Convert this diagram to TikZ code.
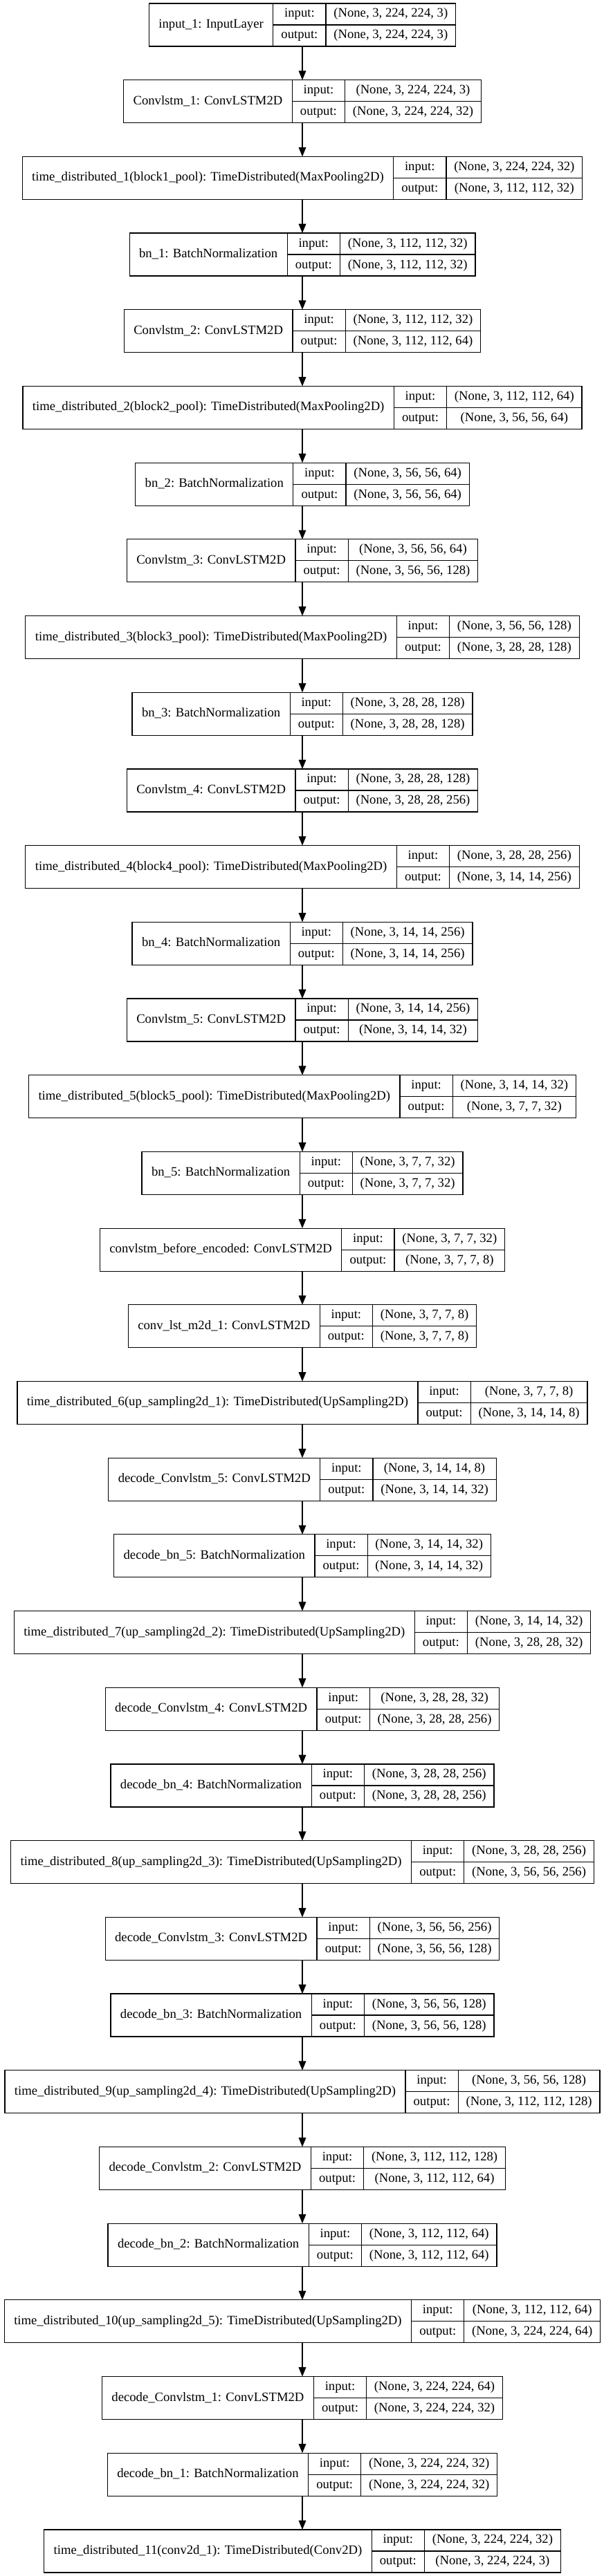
\documentclass[tikz,border=0pt]{standalone}
\usepackage{fontspec}
\setmainfont{Liberation Serif}
\usetikzlibrary{arrows.meta}
\newdimen\LA \newdimen\LB \newdimen\LC \newdimen\LT \newdimen\LW
\newdimen\XL \newdimen\XA \newdimen\XB \newdimen\YT \newdimen\YM
\newdimen\padn \padn=10.5pt
\newdimen\padl \padl=8.75pt
\newdimen\pads \pads=8.5pt
\font\measfont="Liberation Serif" at 14pt
\newcommand\lfont{\fontsize{14pt}{16pt}\selectfont}
\newcommand\mw[2]{\setbox0=\hbox{\measfont #2}#1=\wd0 }
\tikzset{
  field/.style={draw=black, line width=0.9pt, inner sep=0pt, font=\lfont,
     text height=0.89em, text depth=0.22em, align=center},
  outer/.style={draw=none, inner sep=0pt, outer sep=0pt},
  arr/.style={draw=black, line width=0.9pt, -{Triangle[length=10pt,width=8pt]}}
}
\newcommand\layer[5]{%
  \mw\LA{#3}\advance\LA by 2\padn
  \mw\LB{output:}\advance\LB by 2\padl
  \mw\LC{#4}\mw\LT{#5}%
  \ifdim\LT>\LC \LC=\LT\fi \advance\LC by 2\pads
  \LW=\dimexpr\LA+\LB+\LC\relax
  \XL=\dimexpr 327.75pt-\LW/2\relax
  \XA=\dimexpr\XL+\LA\relax
  \XB=\dimexpr\XA+\LB\relax
  \YT=\dimexpr -3.75pt-83.02pt*#2\relax
  \YM=\dimexpr\YT-23.25pt\relax
  \edef\wa{\the\LA}\edef\wb{\the\LB}\edef\wc{\the\LC}\edef\ww{\the\LW}%
  \edef\ym{\the\YM}%
  \edef\yi{\the\dimexpr\YT-11.625pt\relax}%
  \edef\yo{\the\dimexpr\YT-34.875pt\relax}%
  \edef\xn{\the\dimexpr\XL+\LA/2\relax}%
  \edef\xo{\the\dimexpr\XA+\LB/2\relax}%
  \edef\xs{\the\dimexpr\XB+\LC/2\relax}%
  \node[outer, minimum width=\ww, minimum height=46.5pt] (#1) at (327.75pt,\ym) {};
  \node[field, minimum width=\wa, minimum height=46.5pt] (#1-name) at (\xn,\ym) {#3};
  \node[field, minimum width=\wb, minimum height=23.25pt] (#1-il) at (\xo,\yi) {input:};
  \node[field, minimum width=\wb, minimum height=23.25pt] (#1-ol) at (\xo,\yo) {output:};
  \node[field, minimum width=\wc, minimum height=23.25pt] (#1-in) at (\xs,\yi) {#4};
  \node[field, minimum width=\wc, minimum height=23.25pt] (#1-out) at (\xs,\yo) {#5};
}
\begin{document}
\begin{tikzpicture}
\useasboundingbox[fill=white] (0pt,0pt) rectangle (654pt,-2793.75pt);
\layer{L1}{0}{input\_1: InputLayer}{(None, 3, 224, 224, 3)}{(None, 3, 224, 224, 3)}
\layer{L2}{1}{Convlstm\_1: ConvLSTM2D}{(None, 3, 224, 224, 3)}{(None, 3, 224, 224, 32)}
\layer{L3}{2}{time\_distributed\_1(block1\_pool): TimeDistributed(MaxPooling2D)}{(None, 3, 224, 224, 32)}{(None, 3, 112, 112, 32)}
\layer{L4}{3}{bn\_1: BatchNormalization}{(None, 3, 112, 112, 32)}{(None, 3, 112, 112, 32)}
\layer{L5}{4}{Convlstm\_2: ConvLSTM2D}{(None, 3, 112, 112, 32)}{(None, 3, 112, 112, 64)}
\layer{L6}{5}{time\_distributed\_2(block2\_pool): TimeDistributed(MaxPooling2D)}{(None, 3, 112, 112, 64)}{(None, 3, 56, 56, 64)}
\layer{L7}{6}{bn\_2: BatchNormalization}{(None, 3, 56, 56, 64)}{(None, 3, 56, 56, 64)}
\layer{L8}{7}{Convlstm\_3: ConvLSTM2D}{(None, 3, 56, 56, 64)}{(None, 3, 56, 56, 128)}
\layer{L9}{8}{time\_distributed\_3(block3\_pool): TimeDistributed(MaxPooling2D)}{(None, 3, 56, 56, 128)}{(None, 3, 28, 28, 128)}
\layer{L10}{9}{bn\_3: BatchNormalization}{(None, 3, 28, 28, 128)}{(None, 3, 28, 28, 128)}
\layer{L11}{10}{Convlstm\_4: ConvLSTM2D}{(None, 3, 28, 28, 128)}{(None, 3, 28, 28, 256)}
\layer{L12}{11}{time\_distributed\_4(block4\_pool): TimeDistributed(MaxPooling2D)}{(None, 3, 28, 28, 256)}{(None, 3, 14, 14, 256)}
\layer{L13}{12}{bn\_4: BatchNormalization}{(None, 3, 14, 14, 256)}{(None, 3, 14, 14, 256)}
\layer{L14}{13}{Convlstm\_5: ConvLSTM2D}{(None, 3, 14, 14, 256)}{(None, 3, 14, 14, 32)}
\layer{L15}{14}{time\_distributed\_5(block5\_pool): TimeDistributed(MaxPooling2D)}{(None, 3, 14, 14, 32)}{(None, 3, 7, 7, 32)}
\layer{L16}{15}{bn\_5: BatchNormalization}{(None, 3, 7, 7, 32)}{(None, 3, 7, 7, 32)}
\layer{L17}{16}{convlstm\_before\_encoded: ConvLSTM2D}{(None, 3, 7, 7, 32)}{(None, 3, 7, 7, 8)}
\layer{L18}{17}{conv\_lst\_m2d\_1: ConvLSTM2D}{(None, 3, 7, 7, 8)}{(None, 3, 7, 7, 8)}
\layer{L19}{18}{time\_distributed\_6(up\_sampling2d\_1): TimeDistributed(UpSampling2D)}{(None, 3, 7, 7, 8)}{(None, 3, 14, 14, 8)}
\layer{L20}{19}{decode\_Convlstm\_5: ConvLSTM2D}{(None, 3, 14, 14, 8)}{(None, 3, 14, 14, 32)}
\layer{L21}{20}{decode\_bn\_5: BatchNormalization}{(None, 3, 14, 14, 32)}{(None, 3, 14, 14, 32)}
\layer{L22}{21}{time\_distributed\_7(up\_sampling2d\_2): TimeDistributed(UpSampling2D)}{(None, 3, 14, 14, 32)}{(None, 3, 28, 28, 32)}
\layer{L23}{22}{decode\_Convlstm\_4: ConvLSTM2D}{(None, 3, 28, 28, 32)}{(None, 3, 28, 28, 256)}
\layer{L24}{23}{decode\_bn\_4: BatchNormalization}{(None, 3, 28, 28, 256)}{(None, 3, 28, 28, 256)}
\layer{L25}{24}{time\_distributed\_8(up\_sampling2d\_3): TimeDistributed(UpSampling2D)}{(None, 3, 28, 28, 256)}{(None, 3, 56, 56, 256)}
\layer{L26}{25}{decode\_Convlstm\_3: ConvLSTM2D}{(None, 3, 56, 56, 256)}{(None, 3, 56, 56, 128)}
\layer{L27}{26}{decode\_bn\_3: BatchNormalization}{(None, 3, 56, 56, 128)}{(None, 3, 56, 56, 128)}
\layer{L28}{27}{time\_distributed\_9(up\_sampling2d\_4): TimeDistributed(UpSampling2D)}{(None, 3, 56, 56, 128)}{(None, 3, 112, 112, 128)}
\layer{L29}{28}{decode\_Convlstm\_2: ConvLSTM2D}{(None, 3, 112, 112, 128)}{(None, 3, 112, 112, 64)}
\layer{L30}{29}{decode\_bn\_2: BatchNormalization}{(None, 3, 112, 112, 64)}{(None, 3, 112, 112, 64)}
\layer{L31}{30}{time\_distributed\_10(up\_sampling2d\_5): TimeDistributed(UpSampling2D)}{(None, 3, 112, 112, 64)}{(None, 3, 224, 224, 64)}
\layer{L32}{31}{decode\_Convlstm\_1: ConvLSTM2D}{(None, 3, 224, 224, 64)}{(None, 3, 224, 224, 32)}
\layer{L33}{32}{decode\_bn\_1: BatchNormalization}{(None, 3, 224, 224, 32)}{(None, 3, 224, 224, 32)}
\layer{L34}{33}{time\_distributed\_11(conv2d\_1): TimeDistributed(Conv2D)}{(None, 3, 224, 224, 32)}{(None, 3, 224, 224, 3)}
\foreach \i [evaluate=\i as \j using int(\i+1)] in {1,...,33} {
  \draw[arr] (L\i.south) -- (L\j.north);
}
\end{tikzpicture}
\end{document}
